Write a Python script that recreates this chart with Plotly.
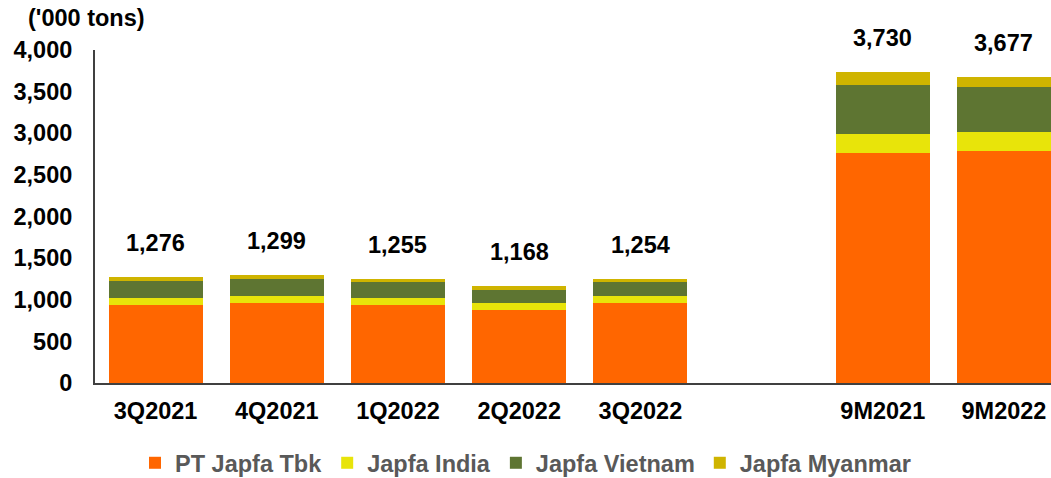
import plotly.graph_objects as go

# Quarterly and nine-month sales volume, '000 tons
quarters = ["3Q2021", "4Q2021", "1Q2022", "2Q2022", "3Q2022"]
nine_months = ["9M2021", "9M2022"]

tbk_q = [943, 965, 942, 880, 965]
india_q = [80, 84, 78, 78, 75]
vietnam_q = [205, 205, 190, 165, 177]
myanmar_q = [48, 45, 45, 45, 37]

tbk_9m = [2763, 2792]
india_9m = [225, 229]
vietnam_9m = [586, 532]
myanmar_9m = [156, 124]

totals_q = [1276, 1299, 1255, 1168, 1254]
totals_9m = [3730, 3677]

y_ticks = [0, 500, 1000, 1500, 2000, 2500, 3000, 3500, 4000]

series_names = ["PT Japfa Tbk", "Japfa India", "Japfa Vietnam", "Japfa Myanmar"]
series_colors = ["#FF6600", "#E8E40A", "#5E7532", "#CFB400"]

# a blank spacer category separates the quarters from the nine-month totals
spacer = " "
categories = quarters + [spacer] + nine_months


def joined(q_vals, m_vals):
    return list(q_vals) + [None] + list(m_vals)


series_values = [
    joined(tbk_q, tbk_9m),
    joined(india_q, india_9m),
    joined(vietnam_q, vietnam_9m),
    joined(myanmar_q, myanmar_9m),
]
totals = joined(totals_q, totals_9m)

font_family = "Liberation Sans, Arial, sans-serif"
fs = 23.5

fig = go.Figure()
for name, color, vals in zip(series_names, series_colors, series_values):
    fig.add_trace(go.Bar(
        x=categories, y=vals, name=f"<b>{name}</b>",
        marker=dict(color=color, line=dict(width=0)),
    ))

for cat, tot in zip(categories, totals):
    if tot is None:
        continue
    fig.add_annotation(
        x=cat, y=tot, text=f"<b>{tot:,}</b>", showarrow=False,
        yanchor="bottom", yshift=19,
        font=dict(family=font_family, size=fs, color="#000000"),
    )

fig.add_annotation(
    xref="paper", yref="paper", x=(26 - 95) / 956, y=1.0, yshift=32,
    xanchor="left", yanchor="middle", text="<b>('000 tons)</b>", showarrow=False,
    font=dict(family=font_family, size=fs, color="#000000"),
)

fig.update_layout(
    width=1051, height=478,
    margin=dict(l=95, r=0, t=50, b=95, autoexpand=False),
    barmode="stack", bargap=0.224,
    plot_bgcolor="#FFFFFF", paper_bgcolor="#FFFFFF",
    font=dict(family=font_family, size=fs, color="#000000"),
    showlegend=True,
    legend=dict(
        orientation="h", xref="container", x=0.5, xanchor="center",
        y=-(463 - 383) / 333, yanchor="middle",
        font=dict(family=font_family, size=fs, color="#595959"),
        traceorder="normal", itemclick=False, itemwidth=30,
    ),
    xaxis=dict(
        type="category", range=[-0.5, 7.388],
        showline=True, linecolor="#404040", linewidth=2,
        ticks="", showgrid=False, zeroline=False,
        tickfont=dict(family=font_family, size=fs, color="#000000"),
        ticklabelstandoff=6,
    ),
    yaxis=dict(
        range=[0, 4000], tickvals=y_ticks, ticktext=[f"<b>{v:,}</b>" for v in y_ticks],
        showline=True, linecolor="#404040", linewidth=2,
        ticks="", showgrid=False, zeroline=False,
        tickfont=dict(family=font_family, size=fs, color="#000000"),
        ticklabelstandoff=16,
    ),
)
fig.update_xaxes(ticktext=[f"<b>{c}</b>" if c.strip() else "" for c in categories],
                 tickvals=categories)

fig.write_html("out.html")
